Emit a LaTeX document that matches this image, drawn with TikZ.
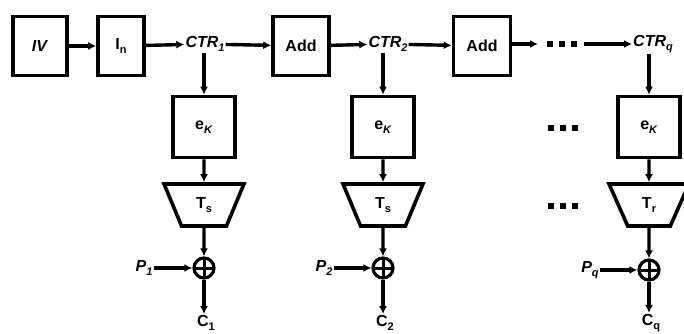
\documentclass[tikz,border=0pt]{standalone}
\usepackage{fontspec}
\setmainfont{Liberation Sans}
\usetikzlibrary{arrows.meta,shapes.geometric}
\newcommand\lowsub[1]{\raisebox{-0.5ex}{\fontsize{11}{11}\selectfont #1}}
\begin{document}
\begin{tikzpicture}[x=1pt,y=-1pt,
  font=\fontsize{16}{18}\selectfont\bfseries,
  box/.style={draw, line width=3.6pt, inner sep=0pt},
  lbl/.style={inner sep=1pt},
  conn/.style={line width=3.4pt, -{Latex[length=8pt,width=8pt]}},
  trap/.style={draw, line width=3.6pt, trapezium, trapezium angle=68,
    shape border rotate=180, trapezium stretches=true,
    minimum width=80pt, minimum height=42pt, inner sep=0pt},
  xor/.style={draw, circle, line width=3.2pt, minimum size=20pt, inner sep=0pt,
    path picture={\draw[line width=3pt] (path picture bounding box.north) -- (path picture bounding box.south)
      (path picture bounding box.west) -- (path picture bounding box.east);}},
  dotsq/.style={fill=black}]
\useasboundingbox (0,0) rectangle (684,333);

% top row
\node[box, minimum width=54pt, minimum height=59pt] (iv) at (40,46) {\textit{IV}};
\node[box, minimum width=46pt, minimum height=59pt] (in) at (121,46) {I\lowsub{n}};
\node[lbl] (ctr1) at (205,44) {\textit{CTR}\lowsub{\textit{1}}};
\node[box, minimum width=56pt, minimum height=59pt] (add1) at (301,46) {Add};
\node[lbl] (ctr2) at (388,44) {\textit{CTR}\lowsub{\textit{2}}};
\node[box, minimum width=57pt, minimum height=59pt] (add2) at (482,46) {Add};
\node[lbl] (ctrq) at (653,44) {\textit{CTR}\lowsub{\textit{q}}};
\coordinate (d1) at (538,44);
\coordinate (d2) at (584,44);

\draw[conn] (iv) -- (in);
\draw[conn] (in) -- (ctr1);
\draw[conn] (ctr1) -- (add1);
\draw[conn] (add1) -- (ctr2);
\draw[conn] (ctr2) -- (add2);
\draw[conn] (add2.east |- d1) -- (d1);
\draw[conn] (d2) -- (ctrq);
\foreach \x in {550,562,574} \fill[dotsq] (\x-3,41) rectangle (\x+3,47);

% columns
\node[box, minimum width=62pt, minimum height=61pt] (ek1) at (204,127) {e\lowsub{\textit{K}}};
\node[box, minimum width=62pt, minimum height=61pt] (ek2) at (383,127) {e\lowsub{\textit{K}}};
\node[box, minimum width=62pt, minimum height=61pt] (ek3) at (649,127) {e\lowsub{\textit{K}}};

\node[trap] (t1) at (204,205) {T\lowsub{s}};
\node[trap] (t2) at (383,205) {T\lowsub{s}};
\node[trap] (t3) at (649,205) {T\lowsub{r}};

\node[xor] (x1) at (204,268) {};
\node[xor] (x2) at (383,268) {};
\node[xor] (x3) at (649,270) {};

\node[lbl] (p1) at (144,268) {\textit{P}\lowsub{\textit{1}}};
\node[lbl] (p2) at (324,268) {\textit{P}\lowsub{\textit{2}}};
\node[lbl] (pq) at (590,270) {\textit{P}\lowsub{\textit{q}}};

\node[lbl] (c1) at (206,323) {C\lowsub{1}};
\node[lbl] (c2) at (385,323) {C\lowsub{2}};
\node[lbl] (cq) at (651,323) {C\lowsub{q}};

\draw[conn] (ek1.north |- ctr1.south) -- (ek1.north);
\draw[conn] (ek2.north |- ctr2.south) -- (ek2.north);
\draw[conn] (ek3.north |- ctrq.south) -- (ek3.north);

\draw[conn] (ek1.south) -- (t1.north);
\draw[conn] (ek2.south) -- (t2.north);
\draw[conn] (ek3.south) -- (t3.north);

\draw[conn] (t1.south) -- (x1.north);
\draw[conn] (t2.south) -- (x2.north);
\draw[conn] (t3.south) -- (x3.north);

\draw[conn] (p1) -- (x1);
\draw[conn] (p2) -- (x2);
\draw[conn] (pq) -- (x3);

\draw[conn] (x1.south) -- (x1.south |- c1.north);
\draw[conn] (x2.south) -- (x2.south |- c2.north);
\draw[conn] (x3.south) -- (x3.south |- cq.north);

% ellipsis marks between columns
\foreach \x in {551,563,575} {
  \fill[dotsq] (\x-3,125) rectangle (\x+3,131);
  \fill[dotsq] (\x-3,203) rectangle (\x+3,209);
}
\end{tikzpicture}
\end{document}
